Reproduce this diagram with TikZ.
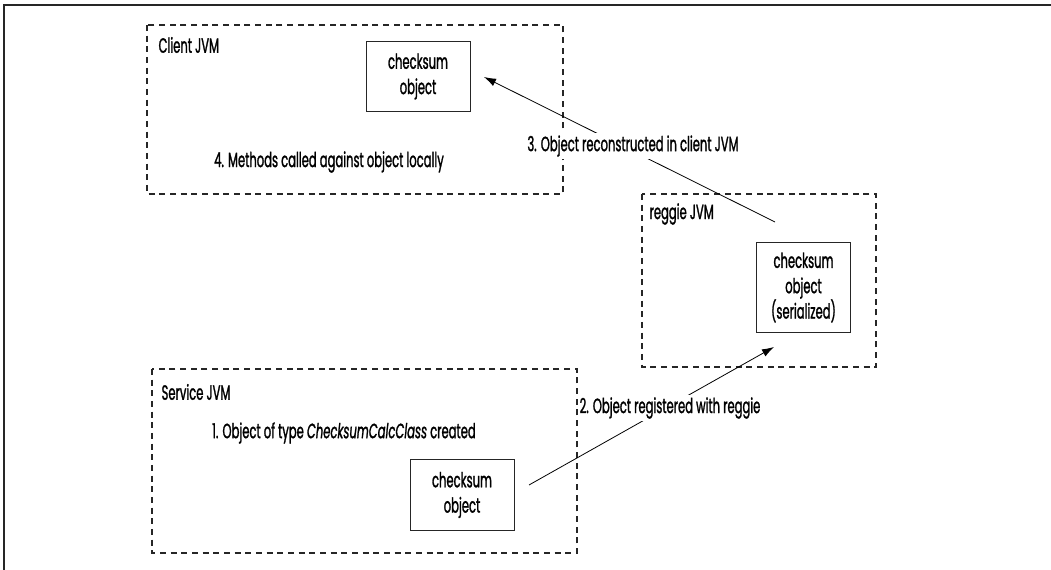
\documentclass[tikz,border=0pt]{standalone}
\usepackage{fontspec}
\setmainfont{Poppins}[FakeStretch=0.56,FakeBold=1.2]
\usetikzlibrary{arrows.meta}
\begin{document}
\begin{tikzpicture}[x=0.75pt,y=-0.75pt,
  every node/.style={font=\fontsize{15.5}{19}\selectfont},
  jvm/.style={draw=black!85,line width=0.9pt,dash pattern=on 4.5pt off 3.5pt},
  objbox/.style={draw=black!85,line width=0.75pt,align=center,inner sep=0pt},
  lbl/.style={inner sep=1pt,anchor=west},
  steplbl/.style={fill=white,inner sep=1.5pt},
  flow/.style={line width=0.6pt,-{Latex[length=9pt,width=6pt]}}]
\useasboundingbox (0,0) rectangle (1051,570);
\draw[line width=1.3pt,black!85] (4,572) -- (4,5) -- (1053,5);
% boxes
\draw[jvm] (147,25) rectangle (563,194);
\draw[jvm] (642,194) rectangle (876,367);
\draw[jvm] (152,369) rectangle (577,553);
\node[lbl] (clientlbl) at (157,45) {Client JVM};
\node[lbl] (reggielbl) at (648,214) {reggie JVM};
\node[lbl] (servicelbl) at (160,392) {Service JVM};
\node[objbox,text width=78pt,minimum height=52pt] (clientobj) at (418,76.5) {checksum\\object};
\node[objbox,text width=71pt,minimum height=67pt] (reggieobj) at (803.5,287.5) {checksum\\object\\(serialized)};
\node[objbox,text width=78pt,minimum height=53pt] (serviceobj) at (462,495) {checksum\\object};
\node (m4) at (329,162) {4. Methods called against object locally};
\node (m1) at (344,433) {1. Object of type \textit{ChecksumCalcClass} created};
% arrows
\coordinate (a3s) at (775,222);
\coordinate (a3e) at (484,77);
\coordinate (a2s) at (529,485);
\coordinate (a2e) at (774,347);
\draw[flow] (a3s) -- (a3e);
\draw[flow] (a2s) -- (a2e);
\node[steplbl] (m3) at (633,146) {3. Object reconstructed in client JVM};
\node[steplbl] (m2) at (670,408) {2. Object registered with reggie};
\end{tikzpicture}
\end{document}
